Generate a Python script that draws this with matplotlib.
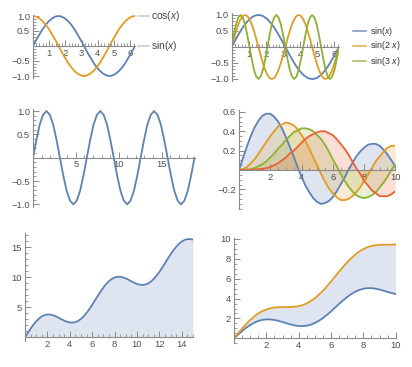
import numpy as np
import matplotlib
matplotlib.use("Agg")
import matplotlib.pyplot as plt
from matplotlib.lines import Line2D
from matplotlib.ticker import MultipleLocator

plt.rcParams["font.family"] = ["Liberation Sans", "DejaVu Sans"]
plt.rcParams["mathtext.fontset"] = "custom"
plt.rcParams["mathtext.rm"] = "Liberation Sans"
plt.rcParams["mathtext.it"] = "Liberation Sans:italic"

# panel 1: sin / cos over one period (33 samples)
sin_a = [0, .20, .38, .56, .71, .83, .92, .98, 1, .98, .92, .83, .71, .56, .38, .20, 0,
         -.20, -.38, -.56, -.71, -.83, -.92, -.98, -1, -.98, -.92, -.83, -.71, -.56, -.38, -.20, 0]
cos_a = [1, .98, .92, .83, .71, .56, .38, .20, 0, -.20, -.38, -.56, -.71, -.83, -.92, -.98, -1,
         -.98, -.92, -.83, -.71, -.56, -.38, -.20, 0, .20, .38, .56, .71, .83, .92, .98, 1]

# panel 2: sin(x), sin(2x), sin(3x) over one period (49 samples)
sin1_b = [0, .13, .26, .38, .50, .61, .71, .79, .87, .92, .97, .99, 1, .99, .97, .92, .87, .79, .71, .61, .50, .38, .26, .13, 0,
          -.13, -.26, -.38, -.50, -.61, -.71, -.79, -.87, -.92, -.97, -.99, -1, -.99, -.97, -.92, -.87, -.79, -.71, -.61, -.50, -.38, -.26, -.13, 0]
sin2_b = [0, .26, .50, .71, .87, .97, 1, .97, .87, .71, .50, .26, 0, -.26, -.50, -.71, -.87, -.97, -1, -.97, -.87, -.71, -.50, -.26,
          0, .26, .50, .71, .87, .97, 1, .97, .87, .71, .50, .26, 0, -.26, -.50, -.71, -.87, -.97, -1, -.97, -.87, -.71, -.50, -.26, 0]
sin3_b = [0, .38, .71, .92, 1, .92, .71, .38, 0, -.38, -.71, -.92, -1, -.92, -.71, -.38,
          0, .38, .71, .92, 1, .92, .71, .38, 0, -.38, -.71, -.92, -1, -.92, -.71, -.38,
          0, .38, .71, .92, 1, .92, .71, .38, 0, -.38, -.71, -.92, -1, -.92, -.71, -.38, 0]
legend_b = ["sin($x$)", "sin(2 $x$)", "sin(3 $x$)"]

# panel 3: sin(x) over three periods (49 samples)
sin_c = [0, .38, .71, .92, 1, .92, .71, .38, 0, -.38, -.71, -.92, -1, -.92, -.71, -.38,
         0, .38, .71, .92, 1, .92, .71, .38, 0, -.38, -.71, -.92, -1, -.92, -.71, -.38,
         0, .38, .71, .92, 1, .92, .71, .38, 0, -.38, -.71, -.92, -1, -.92, -.71, -.38, 0]

# panel 4: four curves on 0..10 (step 0.25)
j1 = [0, .12, .24, .35, .44, .51, .56, .58, .58, .55, .50, .43, .34, .24, .14, .03, -.07, -.16, -.23, -.29, -.33,
      -.35, -.34, -.32, -.28, -.22, -.15, -.08, 0, .07, .14, .19, .23, .26, .27, .27, .25, .21, .16, .10, .04]
j2 = [0, .01, .03, .07, .11, .17, .23, .29, .35, .40, .45, .47, .49, .48, .46, .42, .36, .30, .22, .13, .05,
      -.04, -.12, -.19, -.24, -.28, -.31, -.31, -.30, -.27, -.23, -.18, -.11, -.05, .02, .09, .14, .19, .23, .25, .25]
j3 = [0, 0, 0, .01, .02, .04, .06, .09, .13, .17, .22, .26, .31, .35, .39, .41, .43, .43, .42, .40, .36,
      .32, .26, .19, .11, .04, -.04, -.11, -.17, -.22, -.26, -.28, -.29, -.28, -.26, -.23, -.18, -.13, -.07, 0, .06]
j4 = [0, 0, 0, 0, 0, .01, .01, .02, .03, .05, .07, .10, .13, .17, .20, .24, .28, .32, .35, .37, .39,
      .40, .40, .38, .36, .32, .27, .22, .16, .09, .02, -.04, -.11, -.16, -.21, -.24, -.27, -.27, -.27, -.25, -.22]

# panel 5: rising wave on 0..15 (step 0.25)
rise_e = [0, .74, 1.46, 2.11, 2.68, 3.15, 3.50, 3.72, 3.82, 3.81, 3.70, 3.51, 3.28, 3.03, 2.80, 2.61,
          2.49, 2.46, 2.55, 2.75, 3.08, 3.53, 4.09, 4.73, 5.44, 6.18, 6.93, 7.65, 8.31, 8.90, 9.38, 9.74,
          9.98, 10.10, 10.10, 10.00, 9.82, 9.60, 9.35, 9.11, 8.91, 8.78, 8.74, 8.81, 9.00, 9.31, 9.75, 10.29,
          10.93, 11.63, 12.37, 13.12, 13.84, 14.51, 15.11, 15.60, 15.98, 16.24, 16.37, 16.39, 16.30]

# panel 6: upper and lower curves on 0..10 (step 0.25)
upper_f = [0, .50, .98, 1.43, 1.84, 2.20, 2.50, 2.73, 2.91, 3.03, 3.10, 3.13, 3.14, 3.14, 3.15, 3.18,
           3.24, 3.35, 3.52, 3.75, 4.04, 4.39, 4.79, 5.24, 5.72, 6.22, 6.72, 7.20, 7.66, 8.07, 8.44,
           8.74, 8.99, 9.17, 9.30, 9.37, 9.41, 9.42, 9.42, 9.43, 9.46]
lower_f = [0, .37, .73, 1.06, 1.34, 1.57, 1.75, 1.86, 1.91, 1.90, 1.85, 1.76, 1.64, 1.52, 1.40, 1.30,
           1.24, 1.23, 1.27, 1.38, 1.54, 1.77, 2.04, 2.37, 2.72, 3.09, 3.47, 3.83, 4.16, 4.45, 4.69,
           4.87, 4.99, 5.05, 5.05, 5.00, 4.91, 4.80, 4.67, 4.56, 4.46]

BLUE, ORANGE, GREEN, RED = "#5e81b5", "#e19c24", "#8fb032", "#eb6235"
LW = 1.3

W, H = 412, 367
fig = plt.figure(figsize=(W / 100, H / 100), dpi=100)


def place(x0, x1, y0, y1):
    # pixel box -> figure fraction
    return fig.add_axes([x0 / W, 1 - y1 / H, (x1 - x0) / W, (y1 - y0) / H])


def style(ax, xticks, yticks, xminor, yminor, yfmt="{:g}"):
    for s in ["top", "right"]:
        ax.spines[s].set_visible(False)
    for s in ["left", "bottom"]:
        ax.spines[s].set_position(("data", 0))
        ax.spines[s].set_color("#8a8a8a")
        ax.spines[s].set_linewidth(0.8)
    ax.set_xticks(xticks)
    ax.set_yticks(yticks)
    ax.set_yticklabels([yfmt.format(v).replace("-", "\u2212") for v in yticks])
    ax.xaxis.set_minor_locator(MultipleLocator(xminor))
    ax.yaxis.set_minor_locator(MultipleLocator(yminor))
    ax.tick_params(which="both", direction="in", colors="#8a8a8a", labelcolor="#505050",
                   labelsize=6.8, pad=2)
    ax.tick_params(which="major", length=4, width=0.7)
    ax.tick_params(which="minor", length=2, width=0.6)
    ax.patch.set_alpha(0)


# ---- panel 1
xa = np.linspace(0, 2 * np.pi, len(sin_a))
ax = place(33, 135, 14.5, 77.5)
ax.plot(xa, sin_a, color=BLUE, lw=LW)
ax.plot(xa, cos_a, color=ORANGE, lw=LW)
ax.set_xlim(0, 2 * np.pi)
ax.set_ylim(-1.05, 1.05)
style(ax, [1, 2, 3, 4, 5, 6], [-1, -0.5, 0.5, 1], 0.2, 0.1, "{:.1f}")
for ypx, lab in [(16, "cos($x$)"), (46, "sin($x$)")]:
    fig.add_artist(Line2D([138 / W, 149 / W], [1 - ypx / H] * 2, color="#cccccc", lw=1.2))
    fig.text(151 / W, 1 - ypx / H, lab, fontsize=7.4, color="#444444", va="center")

# ---- panel 2
xb = np.linspace(0, 2 * np.pi, len(sin1_b))
ax = place(231.6, 339, 13.4, 80.6)
for ys, c in zip([sin1_b, sin2_b, sin3_b], [BLUE, ORANGE, GREEN]):
    ax.plot(xb, ys, color=c, lw=LW)
ax.set_xlim(0, 2 * np.pi)
ax.set_ylim(-1.05, 1.05)
style(ax, [1, 2, 3, 4, 5, 6], [-1, -0.5, 0.5, 1], 0.2, 0.1, "{:.1f}")
for ypx, lab, c in zip([31, 46, 61], legend_b, [BLUE, ORANGE, GREEN]):
    fig.add_artist(Line2D([353 / W, 366 / W], [1 - ypx / H] * 2, color=c, lw=1.1, alpha=0.85))
    fig.text(370 / W, 1 - ypx / H, lab, fontsize=6.4, color="#333333", va="center")

# ---- panel 3
xc = np.linspace(0, 6 * np.pi, len(sin_c))
ax = place(33, 194.5, 108.7, 206.7)
ax.plot(xc, sin_c, color=BLUE, lw=LW)
ax.set_xlim(0, 6 * np.pi)
ax.set_ylim(-1.05, 1.05)
style(ax, [5, 10, 15], [-1, -0.5, 0.5, 1], 1, 0.1, "{:.1f}")

# ---- panel 4
xd = np.linspace(0, 10, len(j1))
ax = place(239, 395.3, 109.9, 208.8)
for ys, c in zip([j1, j2, j3, j4], [BLUE, ORANGE, GREEN, RED]):
    ax.fill_between(xd, 0, ys, color=c, alpha=0.2, lw=0)
for ys, c in zip([j1, j2, j3, j4], [BLUE, ORANGE, GREEN, RED]):
    ax.plot(xd, ys, color=c, lw=LW)
ax.set_xlim(0, 10)
ax.set_ylim(-0.40, 0.62)
style(ax, [2, 4, 6, 8, 10], [-0.2, 0.2, 0.4, 0.6], 0.5, 0.05, "{:.1f}")

# ---- panel 5
xe = np.linspace(0, 15, len(rise_e))
ax = place(25, 193, 233, 341)
ax.fill_between(xe, 0, rise_e, color=BLUE, alpha=0.2, lw=0)
ax.plot(xe, rise_e, color=BLUE, lw=LW)
ax.set_xlim(0, 15)
ax.set_ylim(-0.6, 17.4)
style(ax, [2, 4, 6, 8, 10, 12, 14], [5, 10, 15], 0.5, 1)

# ---- panel 6
xf = np.linspace(0, 10, len(upper_f))
ax = place(234, 395.7, 238.3, 343.3)
ax.fill_between(xf, lower_f, upper_f, color=BLUE, alpha=0.2, lw=0)
ax.plot(xf, lower_f, color=BLUE, lw=LW)
ax.plot(xf, upper_f, color=ORANGE, lw=LW)
ax.set_xlim(0, 10)
ax.set_ylim(-0.5, 10.07)
style(ax, [2, 4, 6, 8, 10], [2, 4, 6, 8, 10], 0.5, 0.5)

fig.savefig("out.png", dpi=100)
